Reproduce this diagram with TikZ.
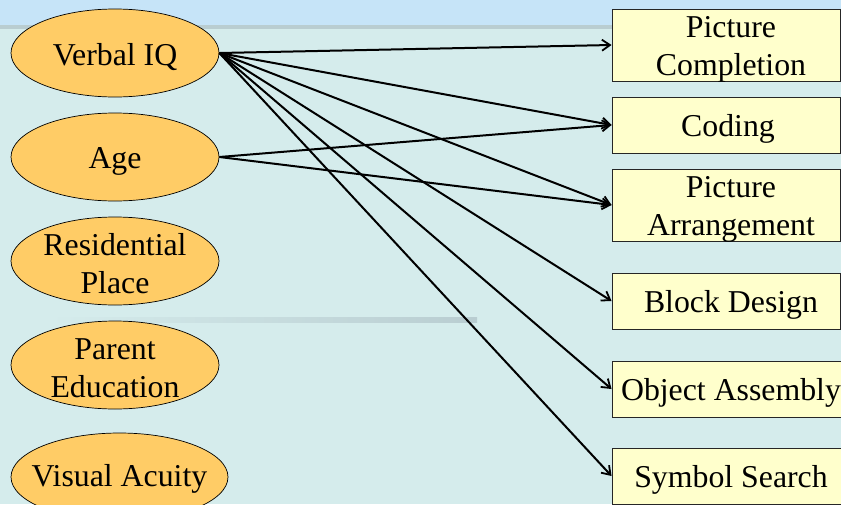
\documentclass[tikz,border=0pt]{standalone}
\usepackage{fontspec}
\setmainfont{Liberation Serif}
\usetikzlibrary{shapes.geometric,arrows.meta}
\definecolor{bgc}{HTML}{D5ECEC}
\definecolor{topc}{HTML}{C6E4F8}
\definecolor{bandc}{HTML}{B9CDD1}
\definecolor{ellfill}{HTML}{FFCC66}
\definecolor{boxfill}{HTML}{FFFFCC}
\begin{document}
\begin{tikzpicture}[x=1pt,y=-1pt,
  lbl/.style={font=\fontsize{31.8}{38}\selectfont,align=center,inner sep=0pt},
  oval/.style={ellipse,draw=black,line width=0.7pt,fill=ellfill,
    minimum width=208pt,minimum height=88pt,inner sep=0pt},
  testbox/.style={rectangle,draw=black!85,line width=0.9pt,fill=boxfill,
    minimum width=228pt,inner sep=0pt},
  conn/.style={line width=2pt,-{Straight Barb[length=8pt,width=11pt,line width=1.8pt]}}]
\useasboundingbox (0,0) rectangle (841,504);
\clip (0,0) rectangle (841,504);
\fill[bgc] (0,0) rectangle (841,504);
\fill[topc] (0,0) rectangle (841,25);
\fill[bandc] (0,25) rectangle (841,29);
\shade[left color=bgc,right color=bandc] (50,317) rectangle (477,322);
% predictors
\node[oval] (viq) at (115,53) {};
\node[oval] (age) at (115,157) {};
\node[oval] (res) at (115,261) {};
\node[oval] (par) at (115,365) {};
\node[oval,minimum width=217pt] (vis) at (119.5,477) {};
\node[lbl] (viqt) at ([yshift=-4pt]viq.center) {Verbal IQ};
\node[lbl] (aget) at ([yshift=-4pt]age.center) {Age};
\node[lbl] (rest) at ([yshift=-3pt]res.center) {Residential\\Place};
\node[lbl] (part) at ([yshift=-3pt]par.center) {Parent\\Education};
\node[lbl] (vist) at ([yshift=-2pt]vis.center) {Visual Acuity};
% outcomes
\node[testbox,minimum height=72pt] (pc) at (726,45) {};
\node[testbox,minimum height=56pt] (cod) at (726,125) {};
\node[testbox,minimum height=72pt] (pa) at (726,205) {};
\node[testbox,minimum height=56pt] (bd) at (726,301) {};
\node[testbox,minimum height=56pt,minimum width=238pt] (oa) at (731,389) {};
\node[testbox,minimum height=56pt,minimum width=238pt] (ss) at (731,476) {};
\node[lbl] (pct) at ([xshift=5pt,yshift=-4pt]pc.center) {Picture\\Completion};
\node[lbl] (codt) at ([xshift=2pt,yshift=-4pt]cod.center) {Coding};
\node[lbl] (pat) at ([xshift=5pt,yshift=-4pt]pa.center) {Picture\\Arrangement};
\node[lbl] (bdt) at ([xshift=5pt,yshift=-4pt]bd.center) {Block Design};
\node[lbl] (oat) at ([yshift=-4pt]oa.center) {Object Assembly};
\node[lbl] (sst) at ([yshift=-4pt]ss.center) {Symbol Search};
% connectors
\draw[conn] (viq.east) -- (pc.west);
\draw[conn] (viq.east) -- (cod.west);
\draw[conn] (viq.east) -- (pa.west);
\draw[conn] (viq.east) -- (bd.west);
\draw[conn] (viq.east) -- (oa.west);
\draw[conn] (viq.east) -- (ss.west);
\draw[conn] (age.east) -- (cod.west);
\draw[conn] (age.east) -- (pa.west);
\end{tikzpicture}
\end{document}
